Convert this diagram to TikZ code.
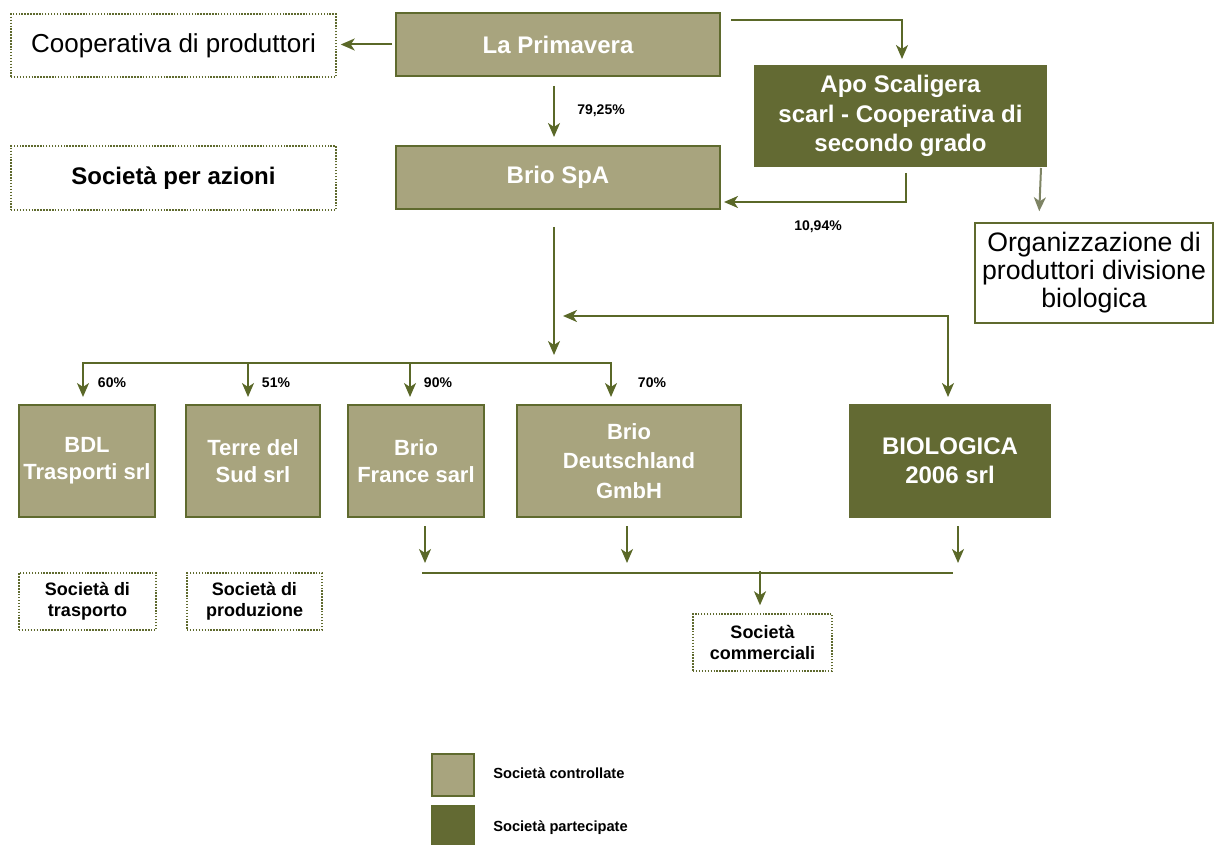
\documentclass[tikz,border=0pt]{standalone}
\usepackage{fontspec}
\setmainfont{Liberation Sans}
\usetikzlibrary{arrows.meta,calc}
\newdimen\px \px=0.75pt
\definecolor{lightol}{HTML}{A8A47E}
\definecolor{borderol}{HTML}{5F6A2E}
\definecolor{darkol}{HTML}{636A33}
\definecolor{lineol}{HTML}{5A6828}
\definecolor{grayol}{HTML}{7E8464}
\tikzset{
  ctrl/.style={draw=borderol, line width=1.5pt, fill=lightol, text=white, align=center, inner sep=0pt},
  part/.style={draw=darkol, line width=1.5pt, fill=darkol, text=white, align=center, inner sep=0pt},
  dotbox/.style={draw=borderol, line width=1.1pt, dash pattern=on 1.1pt off 1.1pt, fill=white, align=center, inner sep=0pt},
  solidbox/.style={draw=borderol, line width=1.1pt, fill=white, align=center, inner sep=0pt},
  bigbold/.style={font=\fontsize{18}{22}\selectfont\bfseries},
  midbold/.style={font=\fontsize{16.5}{20.5}\selectfont\bfseries},
  smallbold/.style={font=\fontsize{13.5}{16}\selectfont\bfseries},
  pct/.style={font=\fontsize{10.5}{12}\selectfont\bfseries, inner sep=0pt},
  legtext/.style={font=\fontsize{11}{13}\selectfont\bfseries, inner sep=0pt, anchor=west},
  conn/.style={draw=lineol, line width=1.5pt},
  tip/.style={Stealth[length=10.5pt, width=9pt, inset=3pt]},
  arr/.style={conn, -{Stealth[length=10.5pt, width=9pt, inset=3pt]}},
  darr/.style={conn, {Stealth[length=10.5pt, width=9pt, inset=3pt]}-{Stealth[length=10.5pt, width=9pt, inset=3pt]}},
}
\begin{document}
\begin{tikzpicture}[x=0.75pt,y=-0.75pt]
\useasboundingbox (0,0) rectangle (1214,845);
% top row
\node[dotbox, minimum width=325\px, minimum height=63\px, font=\fontsize{19.5}{22}\selectfont] (coop) at (173.5,45.5) {Cooperativa di produttori};
\node[dotbox, minimum width=325\px, minimum height=64\px, font=\fontsize{18}{22}\selectfont\bfseries] (spa) at (173.5,178) {Società per azioni};
\node[ctrl, bigbold, minimum width=324\px, minimum height=63\px] (prim) at (558,44.5) {La Primavera};
\node[ctrl, bigbold, minimum width=324\px, minimum height=63\px] (brio) at (558,177.5) {Brio SpA};
\node[part, bigbold, minimum width=291\px, minimum height=100\px] (apo) at (900.5,116) {Apo Scaligera\\scarl - Cooperativa di\\secondo grado};
\node[solidbox, minimum width=238\px, minimum height=100\px, font=\fontsize{20}{21}\selectfont] (org) at (1094,273) {Organizzazione di\\produttori divisione\\biologica};
% middle row
\node[ctrl, midbold, minimum width=136\px, minimum height=112\px] (bdl) at (87,461) {BDL\\Trasporti srl};
\node[ctrl, midbold, minimum width=134\px, minimum height=112\px] (terre) at (253,461) {Terre del\\Sud srl};
\node[ctrl, midbold, minimum width=136\px, minimum height=112\px] (france) at (416,461) {Brio\\France sarl};
\node[ctrl, midbold, minimum width=224\px, minimum height=112\px, font=\fontsize{16.5}{22}\selectfont\bfseries] (deut) at (629,461) {Brio\\Deutschland\\GmbH};
\node[part, bigbold, minimum width=200\px, minimum height=112\px] (bio) at (950,461) {BIOLOGICA\\2006 srl};
% lower dotted boxes
\node[dotbox, smallbold, minimum width=137\px, minimum height=57\px] (trasp) at (87.5,601.5) {Società di\\trasporto};
\node[dotbox, smallbold, minimum width=135\px, minimum height=57\px] (prod) at (254.5,601.5) {Società di\\produzione};
\node[dotbox, smallbold, minimum width=139\px, minimum height=57\px] (comm) at (762.5,642.5) {Società\\commerciali};
% legend
\node[ctrl, line width=1.2pt, minimum width=42\px, minimum height=42\px] (leg1) at (453,775) {};
\node[part, draw=borderol, line width=1.2pt, minimum width=42\px, minimum height=42\px] (leg2) at (453,827) {};
\node[legtext] (leg1t) at (493,773) {Società controllate};
\node[legtext] (leg2t) at (493,828) {Società partecipate};
% connectors top
\draw[arr] ($(prim.west)+(-3,0)$) -- ($(coop.east)+(4,-1)$);
\draw[arr] ($(prim.south)+(-4,9)$) -- ($(brio.north)+(-4,-8)$);
\node[pct] (p7925) at (601,111) {79,25\%};
\draw[arr] ($(prim.north east)+(10,8)$) -| ($(apo.north)+(1.5,-6)$);
\draw[arr] ($(apo.south)+(5.5,6)$) |- ($(brio.south east)+(3,-8)$);
\node[pct] (p1094) at (818,227) {10,94\%};
\draw[conn, draw=grayol, -{Stealth[length=10.5pt, width=9pt, inset=3pt]}] ($(apo.south east)+(-6,1)$) -- ($(org.north west)+(65,-11)$);
% Brio SpA to subsidiaries
\coordinate (bus) at ($(brio.south)+(-4,153)$);
\draw[arr] ($(brio.south)+(-4,17)$) -- ($(brio.south)+(-4,145)$);
\draw[arr] (bus) -| ($(bdl.north)+(-4,-7)$);
\draw[arr] (bus) -| ($(terre.north)+(-5,-7)$);
\draw[arr] (bus) -| ($(france.north)+(-6,-7)$);
\draw[arr] (bus) -| ($(deut.north)+(-18,-7)$);
\node[pct] (p60) at (112,383) {60\%};
\node[pct] (p51) at (276,383) {51\%};
\node[pct] (p90) at (438,383) {90\%};
\node[pct] (p70) at (652,383) {70\%};
\draw[darr] ($(bio.north)+(-2,-7)$) |- ($(brio.south)+(5,106)$);
% commercial
\draw[arr] ($(france.south)+(9,8)$) -- ($(france.south)+(9,45)$);
\draw[arr] ($(deut.south)+(-2,8)$) -- ($(deut.south)+(-2,45)$);
\draw[arr] ($(bio.south)+(8,8)$) -- ($(bio.south)+(8,45)$);
\draw[conn] ($(france.south)+(6,55)$) -- ($(bio.south)+(3,55)$);
\draw[arr] ($(comm.north)+(-2.5,-42)$) -- ($(comm.north)+(-2.5,-8)$);
\end{tikzpicture}
\end{document}
